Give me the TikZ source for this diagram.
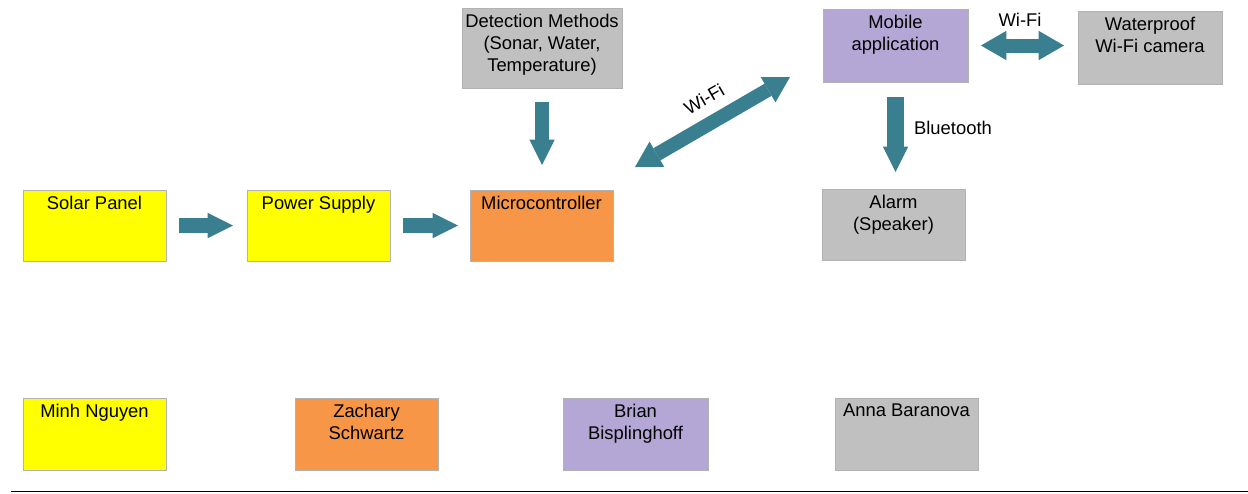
\documentclass[tikz,border=0pt]{standalone}
\usepackage{fontspec}
\setmainfont{Liberation Sans}
\usetikzlibrary{arrows.meta}

\definecolor{sunyellow}{HTML}{FFFF00}
\definecolor{peach}{HTML}{F79646}
\definecolor{lilac}{HTML}{B4A7D6}
\definecolor{silver}{HTML}{C0C0C0}
\definecolor{arrowteal}{HTML}{3A7F90}
\newcommand\boxfont{\fontsize{13.8}{16.5}\selectfont}

\tikzset{
  box/.style={draw=black!30, line width=0.6pt, minimum width=107.25pt, minimum height=53.25pt,
    anchor=north west, inner sep=0pt, outer sep=0pt},
  inlabel/.style={anchor=north, align=center, inner sep=0pt, yshift=-4.5pt, font=\boxfont},
  lbl/.style={font=\boxfont, inner sep=0pt},
  fatarrow/.style={draw=arrowteal, line width=11pt,
    -{Triangle[length=19pt, width=19pt, line width=0pt]}},
  twoway/.style={draw=arrowteal, line width=10.5pt,
    {Triangle[length=19pt, width=22pt, line width=0pt]}-{Triangle[length=19pt, width=22pt, line width=0pt]}},
}

\begin{document}
\begin{tikzpicture}[x=0.75pt, y=-0.75pt]
\useasboundingbox (0,0) rectangle (1248,493);

% chain along the middle row
\node[box, fill=sunyellow, label={[inlabel]north:Solar Panel}] (solar) at (23,190) {};
\node[box, fill=sunyellow, label={[inlabel]north:Power Supply}] (power) at (247,190) {};
\node[box, fill=peach, label={[inlabel]north:Microcontroller}] (micro) at (470,190) {};

% top row
\node[box, fill=silver, minimum width=120pt, minimum height=60pt,
  label={[inlabel]north:{Detection Methods\\(Sonar, Water,\\Temperature)}}] (detect) at (462,8) {};
\node[box, fill=lilac, minimum width=108.75pt, minimum height=54.75pt,
  label={[inlabel]north:{Mobile\\application}}] (mobile) at (823,9) {};
\node[box, fill=silver, minimum width=108pt, minimum height=54.75pt,
  label={[inlabel]north:{Waterproof\\Wi-Fi camera}}] (camera) at (1078,11) {};
\node[box, fill=silver, label={[inlabel]north:{Alarm\\(Speaker)}}] (alarm) at (822,189) {};

% team members
\node[box, fill=sunyellow, minimum height=54pt, label={[inlabel]north:Minh Nguyen}] (minh) at (23,398) {};
\node[box, fill=peach, minimum height=54pt, label={[inlabel]north:{Zachary\\Schwartz}}] (zachary) at (295,398) {};
\node[box, fill=lilac, minimum width=108.75pt, minimum height=54pt,
  label={[inlabel]north:{Brian\\Bisplinghoff}}] (brian) at (563,398) {};
\node[box, fill=silver, minimum height=54pt, label={[inlabel]north:Anna Baranova}] (anna) at (835,398) {};

% arrows
\draw[fatarrow, shorten <=9.75pt, shorten >=10.5pt] (solar.east) -- (power.west);
\draw[fatarrow, shorten <=9.75pt, shorten >=9pt] (power.east) -- (micro.west);
\draw[fatarrow, line width=10pt, shorten <=10.5pt, shorten >=18.75pt] (detect.south) -- (detect.south |- micro.north);
\draw[fatarrow, line width=13pt, shorten <=11.25pt, shorten >=12.75pt] (mobile.south) -- (mobile.south |- alarm.north);
\draw[twoway, shorten <=9.75pt, shorten >=10.5pt] (mobile.east) -- (mobile.east -| camera.west);
\draw[twoway] ([shift={(22,-23)}]micro.north east) -- ([shift={(-33,-5)}]mobile.south west);

\node[lbl] (wifitop) at (1020,20) {Wi-Fi};
\node[lbl] (bluetooth) at (953,128) {Bluetooth};
\node[lbl, rotate=30] (wifidiag) at (704,99) {Wi-Fi};

\draw[line width=1.2pt] (11,491.5) -- (1248,491.5);
\end{tikzpicture}
\end{document}
